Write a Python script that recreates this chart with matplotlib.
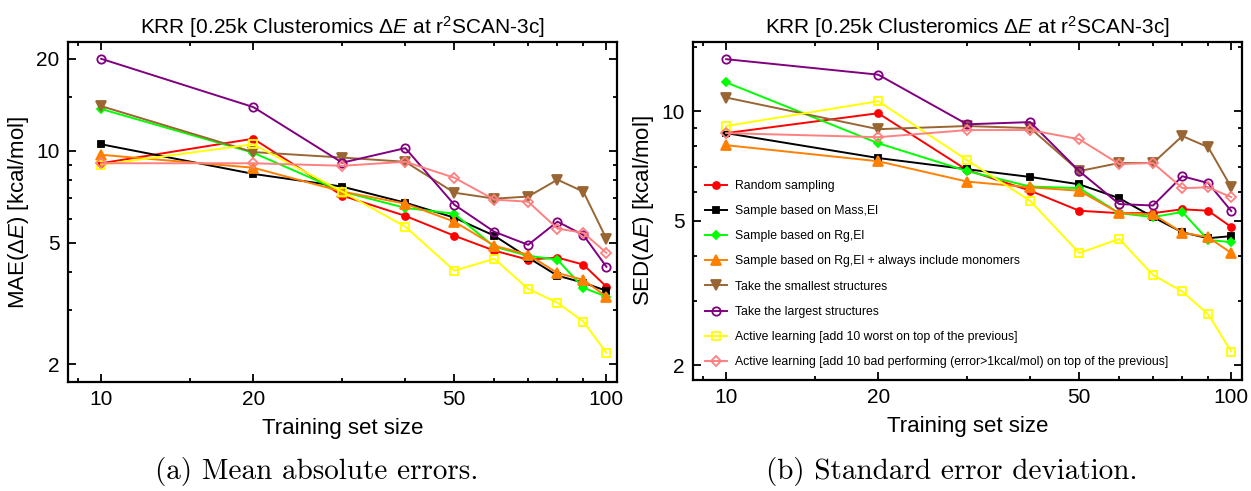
import numpy as np
import matplotlib
matplotlib.use('Agg')
from matplotlib import pyplot as plt
from matplotlib.ticker import FixedLocator, NullFormatter

plt.rcParams['font.family'] = ['Liberation Sans', 'DejaVu Sans']
plt.rcParams['mathtext.fontset'] = 'custom'
plt.rcParams['mathtext.rm'] = 'Liberation Sans'
plt.rcParams['mathtext.it'] = 'Liberation Sans:italic'
plt.rcParams['mathtext.bf'] = 'Liberation Sans:bold'

train_size = [10, 20, 30, 40, 50, 60, 70, 80, 90, 100]

labels = ['Random sampling',
          'Sample based on Mass,El',
          'Sample based on Rg,El',
          'Sample based on Rg,El + always include monomers',
          'Take the smallest structures',
          'Take the largest structures',
          'Active learning [add 10 worst on top of the previous]',
          'Active learning [add 10 bad performing (error>1kcal/mol) on top of the previous]']

# MAE values (kcal/mol)
mae_random = [9.1, 10.95, 7.13, 6.12, 5.27, 4.71, 4.4, 4.47, 4.24, 3.59]
mae_mass = [10.5, 8.4, 7.63, 6.76, 6.04, 5.27, 4.47, 3.90, 3.70, 3.48]
mae_rg = [13.7, 9.85, 7.35, 6.5, 6.22, 4.85, 4.53, 4.4, 3.56, 3.33]
mae_rg_mono = [9.7, 8.8, 7.35, 6.71, 5.86, 4.89, 4.57, 3.98, 3.78, 3.33]
mae_smallest = [14.0, 9.9, 9.5, 9.2, 7.29, 6.97, 7.08, 8.04, 7.35, 5.15]
mae_largest = [20.0, 13.9, 9.14, 10.2, 6.66, 5.43, 4.92, 5.86, 5.3, 4.17]
mae_worst = [9.0, 10.5, 7.35, 5.64, 4.05, 4.43, 3.53, 3.18, 2.76, 2.18]
mae_bad = [9.1, 9.1, 8.93, 9.2, 8.16, 6.92, 6.81, 5.56, 5.39, 4.63]

# SED values (kcal/mol)
sed_random = [8.7, 9.87, 6.88, 6.04, 5.32, 5.24, 5.24, 5.37, 5.32, 4.8]
sed_mass = [8.7, 7.43, 6.92, 6.59, 6.29, 5.76, 5.11, 4.64, 4.47, 4.53]
sed_rg = [12.0, 8.16, 6.84, 6.2, 6.14, 5.24, 5.11, 5.28, 4.42, 4.36]
sed_rg_mono = [8.06, 7.28, 6.4, 6.17, 6.04, 5.24, 5.2, 4.63, 4.5, 4.07]
sed_smallest = [10.9, 8.92, 9.1, 8.98, 6.84, 7.2, 7.2, 8.54, 7.96, 6.17]
sed_largest = [13.9, 12.6, 9.2, 9.33, 6.84, 5.55, 5.5, 6.62, 6.34, 5.31]
sed_worst = [9.1, 10.65, 7.33, 5.66, 4.07, 4.45, 3.54, 3.19, 2.76, 2.18]
sed_bad = [8.7, 8.48, 8.87, 8.87, 8.37, 7.15, 7.2, 6.14, 6.17, 5.8]

mae_all = [mae_random, mae_mass, mae_rg, mae_rg_mono, mae_smallest, mae_largest, mae_worst, mae_bad]
sed_all = [sed_random, sed_mass, sed_rg, sed_rg_mono, sed_smallest, sed_largest, sed_worst, sed_bad]

colors = ['#ff0000', '#000000', '#00ff00', '#ff8000', '#996633', '#800080', '#ffff00', '#ff8080']
markers = ['o', 's', 'D', '^', 'v', 'o', 's', 'D']
sizes = [5, 5, 4.5, 7, 7, 6, 6, 5.5]
filled = [True, True, True, True, True, False, False, False]

fig = plt.figure(figsize=(12.51, 4.91), dpi=100)
ax1 = fig.add_axes([0.0544, 0.222, 0.4389, 0.6925])
ax2 = fig.add_axes([0.554, 0.226, 0.4388, 0.6885])

title = r'KRR [0.25k Clusteromics $\Delta\mathit{E}$ at r$^2$SCAN-3c]'

for ax, data, ylab in [(ax1, mae_all, r'MAE($\Delta\mathit{E}$) [kcal/mol]'),
                       (ax2, sed_all, r'SED($\Delta\mathit{E}$) [kcal/mol]')]:
    for i in range(len(labels)):
        mfc = colors[i] if filled[i] else 'none'
        ax.plot(train_size, data[i], color=colors[i], marker=markers[i], ms=sizes[i],
                mfc=mfc, mec=colors[i], mew=1.3, lw=1.4, label=labels[i])
    ax.set_xscale('log')
    ax.set_yscale('log')
    ax.set_xlim(8.6, 105)
    ax.xaxis.set_major_locator(FixedLocator([10, 20, 50, 100]))
    ax.xaxis.set_minor_locator(FixedLocator([9, 15, 30, 40, 60, 70, 80, 90]))
    ax.set_xticklabels(['10', '20', '50', '100'])
    ax.xaxis.set_minor_formatter(NullFormatter())
    ax.yaxis.set_minor_locator(FixedLocator([3, 4, 6, 7, 8, 9, 15]))
    ax.yaxis.set_minor_formatter(NullFormatter())
    ax.tick_params(which='both', direction='in', top=True, right=True, labelsize=15, width=1.3)
    ax.tick_params(which='major', length=6, pad=6)
    ax.tick_params(which='minor', length=3)
    for s in ax.spines.values():
        s.set_linewidth(1.6)
    ax.set_title(title, fontsize=15, pad=6)
    ax.set_xlabel('Training set size', fontsize=16, labelpad=6)
    ax.set_ylabel(ylab, fontsize=16, labelpad=4)

ax1.set_ylim(1.75, 22.7)
ax1.yaxis.set_major_locator(FixedLocator([2, 5, 10, 20]))
ax1.set_yticklabels(['2', '5', '10', '20'])

ax2.set_ylim(1.82, 15.5)
ax2.yaxis.set_major_locator(FixedLocator([2, 5, 10]))
ax2.set_yticklabels(['2', '5', '10'])

ax2.legend(loc='lower left', bbox_to_anchor=(0.022, 0.035), frameon=False, fontsize=8.8,
           borderpad=0, borderaxespad=0, handlelength=1.75, handletextpad=0.7, labelspacing=1.08)

fig.text(317 / 1251, 1 - 472 / 491, '(a) Mean absolute errors.', family='cmr10',
         fontsize=21, ha='center', va='center')
fig.text(952 / 1251, 1 - 472 / 491, '(b) Standard error deviation.', family='cmr10',
         fontsize=21, ha='center', va='center')

fig.savefig('out.png', dpi=100)
